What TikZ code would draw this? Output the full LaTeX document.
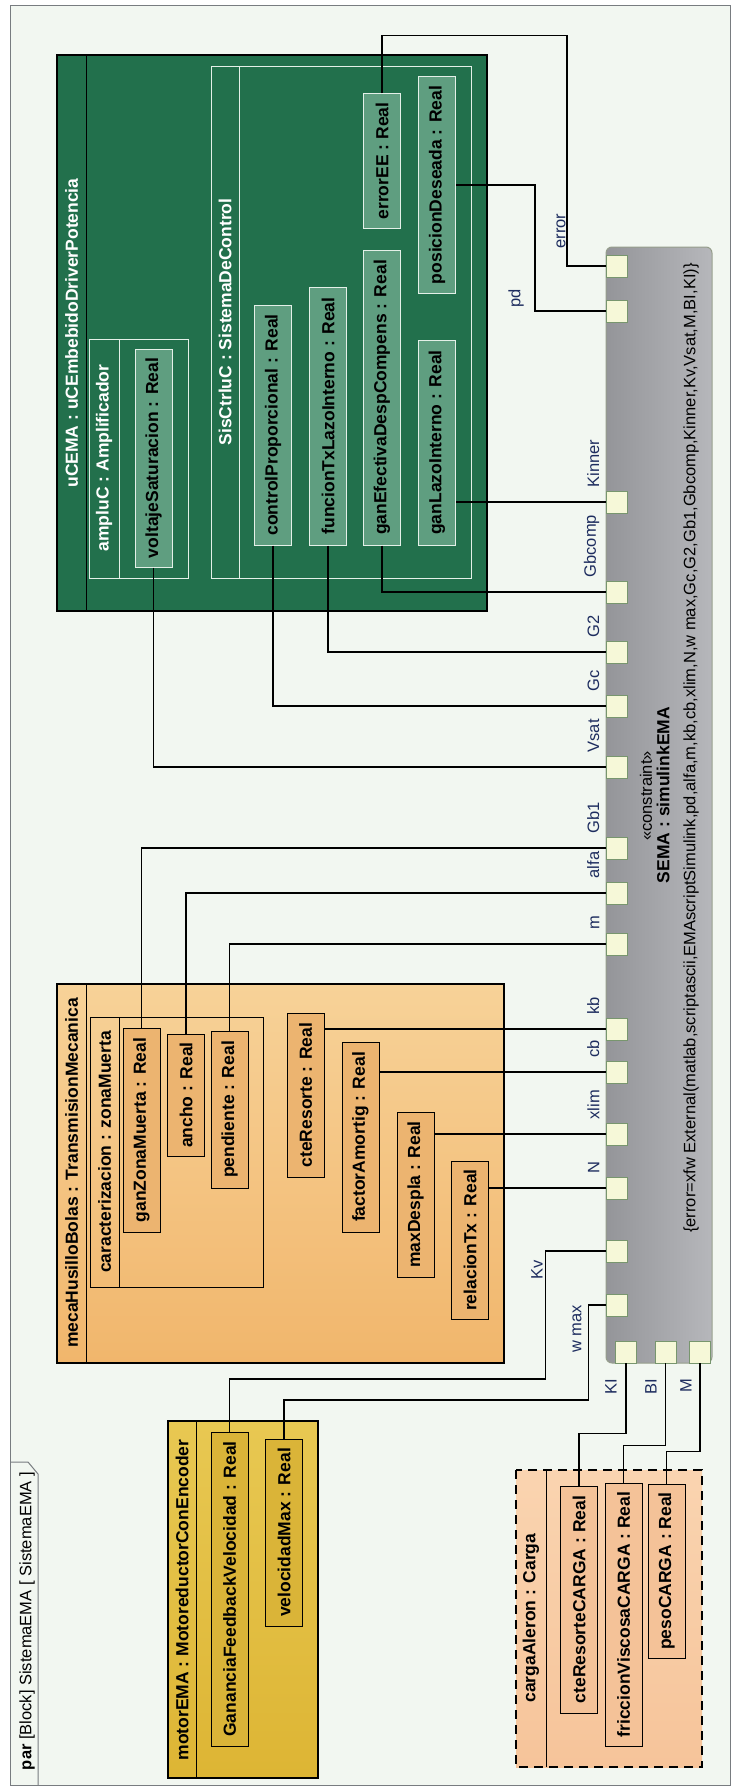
\documentclass[tikz,border=0pt]{standalone}
\usepackage{fontspec}
\setmainfont{Liberation Sans}

\definecolor{framebg}{RGB}{242,247,241}
\definecolor{framegray}{RGB}{120,124,128}
\definecolor{ugreen}{RGB}{34,112,76}
\definecolor{greenprop}{RGB}{95,158,128}
\definecolor{greenline}{RGB}{228,240,232}
\definecolor{orangetop}{RGB}{247,210,152}
\definecolor{orangebot}{RGB}{241,182,108}
\definecolor{orangeprop}{RGB}{236,180,112}
\definecolor{goldtop}{RGB}{232,200,82}
\definecolor{goldbot}{RGB}{221,181,52}
\definecolor{goldprop}{RGB}{218,180,56}
\definecolor{peachtop}{RGB}{250,212,176}
\definecolor{peachbot}{RGB}{246,196,154}
\definecolor{peachprop}{RGB}{244,194,152}
\definecolor{semaL}{RGB}{148,149,153}
\definecolor{semaR}{RGB}{182,183,187}
\definecolor{semaline}{RGB}{150,158,140}
\definecolor{portfill}{RGB}{246,248,216}
\definecolor{portline}{RGB}{120,150,110}
\definecolor{labblue}{RGB}{30,45,95}

\newcommand{\propfont}{\fontsize{17.5}{20}\selectfont\bfseries}
\newcommand{\labfont}{\fontsize{16.5}{19}\selectfont}

\begin{document}
\begin{tikzpicture}[x=1pt,y=-1pt,
  prop/.style={draw, rotate=90, inner sep=0pt, line width=1pt, minimum height=37pt, font=\propfont},
  gprop/.style={prop, draw=greenline, fill=greenprop},
  oprop/.style={prop, fill=orangeprop},
  yprop/.style={prop, fill=goldprop},
  cprop/.style={prop, fill=peachprop},
  ttl/.style={rotate=90, inner sep=0pt, font=\propfont},
  port/.style={draw=portline, fill=portfill, minimum width=21pt, minimum height=22pt, inner sep=0pt, line width=0.8pt},
  plabel/.style={rotate=90, inner sep=0pt, font=\labfont, text=labblue},
  wire/.style={line width=1.1pt}]

\useasboundingbox (0,0) rectangle (736,1790);
\fill[white] (0,0) rectangle (736,1790);

% frame and its tab
\draw[framegray, fill=framebg, line width=1pt] (10,6) rectangle (730,1785);
\draw[framegray, line width=1pt] (10,1462) -- (28,1462) -- (38,1474) -- (38,1785);
\node[rotate=90, inner sep=0pt, font=\labfont] (frametitle) at (27,1621) {\textbf{par} [Block] SistemaEMA [ SistemaEMA ]};

% uCEMA block
\draw[line width=1.2pt, fill=ugreen] (57,55) rectangle (487,611);
\draw[line width=1pt] (86,55) -- (86,611);
\node[ttl, text=white] (ucema) at (71.5,333) {uCEMA : uCEmbebidoDriverPotencia};
\draw[greenline, line width=1pt] (89,339) rectangle (188,578) (119,339) -- (119,578);
\node[ttl, text=white] (amplu) at (104,458) {ampluC : Amplificador};
\draw[greenline, line width=1pt] (211,67) rectangle (471,578) (239,67) -- (239,578);
\node[ttl, text=white] (sisctrl) at (225,322) {SisCtrluC : SistemaDeControl};

\node[gprop, minimum width=218pt] (voltsat) at (153.5,458) {voltajeSaturacion : Real};
\node[gprop, minimum width=240pt] (ctrlprop) at (273,425) {controlProporcional : Real};
\node[gprop, minimum width=258pt] (functx) at (328,416) {funcionTxLazoInterno : Real};
\node[gprop, minimum width=295pt] (ganef) at (382,397.5) {ganEfectivaDespCompens : Real};
\node[gprop, minimum width=205pt] (ganlazo) at (437,442.5) {ganLazoInterno : Real};
\node[gprop, minimum width=134pt] (errorEE) at (382,161) {errorEE : Real};
\node[gprop, minimum width=216pt] (posdes) at (437,185) {posicionDeseada : Real};

% mecaHusilloBolas block
\draw[line width=1.2pt, top color=orangetop, bottom color=orangebot] (57,984) rectangle (504,1363);
\draw[line width=1pt] (86,984) -- (86,1363);
\node[ttl] (meca) at (71.5,1173) {mecaHusilloBolas : TransmisionMecanica};
\draw[line width=1pt] (90,1017) rectangle (263,1287) (119,1017) -- (119,1287);
\node[ttl] (caract) at (104.5,1152) {caracterizacion : zonaMuerta};

\node[oprop, minimum width=204pt] (ganzm) at (141.5,1130) {ganZonaMuerta : Real};
\node[oprop, minimum width=122pt] (ancho) at (186,1095) {ancho : Real};
\node[oprop, minimum width=157pt] (pendiente) at (229.5,1109.5) {pendiente : Real};
\node[oprop, minimum width=164pt] (cteres) at (305.5,1095) {cteResorte : Real};
\node[oprop, minimum width=190pt] (factam) at (360.5,1137) {factorAmortig : Real};
\node[oprop, minimum width=165pt] (maxdes) at (415.5,1194.5) {maxDespla : Real};
\node[oprop, minimum width=158pt] (reltx) at (470,1240) {relacionTx : Real};

% motorEMA block
\draw[line width=1.2pt, top color=goldtop, bottom color=goldbot] (168,1421) rectangle (318,1778);
\draw[line width=1pt] (196,1421) -- (196,1778);
\node[ttl] (motor) at (182,1600) {motorEMA : MotoreductorConEncoder};
\node[yprop, minimum width=314pt] (ganfb) at (229.5,1589) {GananciaFeedbackVelocidad : Real};
\node[yprop, minimum width=187pt] (velmax) at (284,1532.5) {velocidadMax : Real};

% cargaAleron block
\draw[line width=1.2pt, dash pattern=on 9pt off 6pt, top color=peachtop, bottom color=peachbot] (516,1470) rectangle (702,1767);
\draw[line width=1pt] (546,1470) -- (546,1767);
\node[ttl] (carga) at (531,1618) {cargaAleron : Carga};
\node[cprop, minimum width=227pt] (cteresc) at (579,1599.5) {cteResorteCARGA : Real};
\node[cprop, minimum width=263pt] (fric) at (623.5,1614.5) {friccionViscosaCARGA : Real};
\node[cprop, minimum width=174pt] (peso) at (666.5,1571) {pesoCARGA : Real};

% constraint property SEMA
\draw[rounded corners=6pt, left color=semaL, right color=semaR, draw=semaline, line width=1pt] (606,247) rectangle (712,1363);
\node[rotate=90, inner sep=0pt, font=\labfont] (stereo) at (646,796) {«constraint»};
\node[ttl] (sema) at (663,795) {SEMA : simulinkEMA};
\node[rotate=90, inner sep=0pt, font=\labfont] (semaexpr) at (691,748)
  {\{error=xfw External(matlab,scriptascii,EMAscriptSimulink,pd,alfa,m,kb,cb,xlim,N,w max,Gc,G2,Gb1,Gbcomp,Kinner,Kv,Vsat,M,BI,KI)\}};

% ports
\foreach \p/\y in {error/266, pd/311, Kinner/502, Gbcomp/592, G2/652, Gc/706, Vsat/767, Gbone/848, alfa/893,
                   mass/944, kb/1029, cb/1072, xlim/1134, N/1188, Kv/1251, wmax/1305}
  \node[port] (p\p) at (616.5,\y) {};
\foreach \p/\x in {Kl/626, Bl/665.5, M/700}
  \node[port] (p\p) at (\x,1352) {};

\foreach \p/\t in {Kinner/Kinner, Gbcomp/Gbcomp, G2/G2, Gc/Gc, Vsat/Vsat, Gbone/Gb1, alfa/alfa,
                   mass/m, kb/kb, cb/cb, xlim/xlim, N/N}
  \node[plabel, anchor=south west] (l\p) at ([xshift=-6pt,yshift=3pt]p\p.north west) {\t};

% binding connectors
\draw[wire] (errorEE.east) -- ++(0,-58) -- ++(185,0) |- (perror.west);
\draw[wire] (posdes.south) -- ++(79,0) |- (ppd.west);
\draw[wire] (ganlazo.south |- pKinner.west) -- (pKinner.west);
\draw[wire] (ganef.west) |- (pGbcomp.west);
\draw[wire] (functx.west) |- (pG2.west);
\draw[wire] (ctrlprop.west) |- (pGc.west);
\draw[wire] (voltsat.west) |- (pVsat.west);
\draw[wire] (ganzm.east) |- (pGbone.west);
\draw[wire] (ancho.east) |- (palfa.west);
\draw[wire] (pendiente.east) |- (pmass.west);
\draw[wire] (cteres.south |- pkb.west) -- (pkb.west);
\draw[wire] (factam.south |- pcb.west) -- (pcb.west);
\draw[wire] (maxdes.south |- pxlim.west) -- (pxlim.west);
\draw[wire] (reltx.south |- pN.west) -- (pN.west);
\draw[wire] (pKv.west) -- ++(-60,0) -- ++(0,128) -| (ganfb.east);
\draw[wire] (pwmax.west) -- ++(-17,0) -- ++(0,95) -| (velmax.east);
\draw[wire] (pKl.south) -- ++(0,70) -| (cteresc.east);
\draw[wire] (pBl.south) -- ++(0,82) -| (fric.east);
\draw[wire] (pM.south) -- ++(0,88) -| (peso.east);

\node[plabel] (lerror) at (561,231) {error};
\node[plabel] (lpd) at (516,298) {pd};
\node[plabel] (lKv) at (537,1270) {Kv};
\node[plabel] (lwmax) at (577,1329) {w max};
\node[plabel] (lKl) at (611,1387) {KI};
\node[plabel] (lBl) at (651,1387) {BI};
\node[plabel] (lM) at (686,1386) {M};

\end{tikzpicture}
\end{document}
